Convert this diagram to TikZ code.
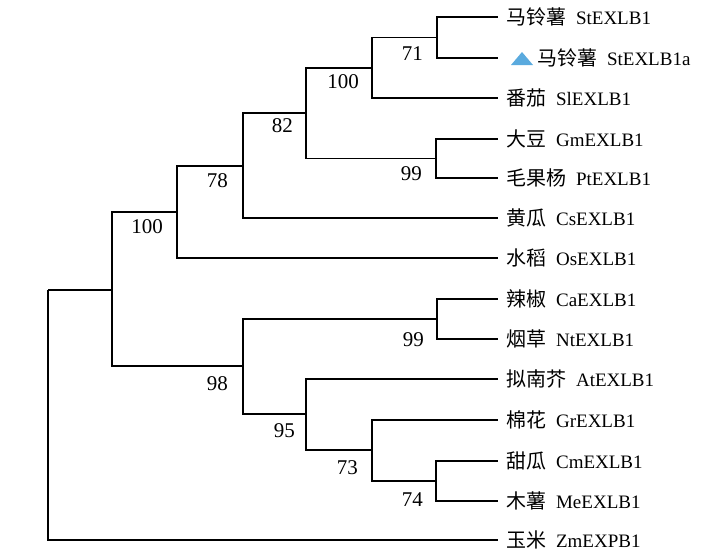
\documentclass[tikz,border=0pt]{standalone}
\usepackage{fontspec}
\setmainfont{Liberation Serif}
\newfontfamily\cjk[Scale=1.05]{Noto Sans CJK SC}
\newcommand{\taxon}[2]{{\cjk #1}\hspace{10pt}#2}
\definecolor{triblue}{RGB}{90,170,222}

\begin{document}
\begin{tikzpicture}[x=1pt,y=-1pt]
	\tikzstyle{leaf}=[anchor=west,inner xsep=8pt,inner ysep=0pt,text height=15.5pt,text depth=0.5pt,font=\fontsize{19}{21}\selectfont]
	\tikzstyle{bs}=[anchor=north east,inner sep=0pt,font=\fontsize{21}{24}\selectfont]
	\tikzstyle{branch}=[line width=1.1pt]
	\useasboundingbox (0,0) rectangle (721,560);
	% leaves
	\node[leaf] (st) at (498,17) {\taxon{马铃薯}{StEXLB1}};
	\node[leaf] (sta) at (498,58) {\hspace{31pt}\taxon{马铃薯}{StEXLB1a}};
	\node[leaf] (sl) at (498,98) {\taxon{番茄}{SlEXLB1}};
	\node[leaf] (gm) at (498,139) {\taxon{大豆}{GmEXLB1}};
	\node[leaf] (pt) at (498,178) {\taxon{毛果杨}{PtEXLB1}};
	\node[leaf] (cs) at (498,218) {\taxon{黄瓜}{CsEXLB1}};
	\node[leaf] (os) at (498,258) {\taxon{水稻}{OsEXLB1}};
	\node[leaf] (ca) at (498,299) {\taxon{辣椒}{CaEXLB1}};
	\node[leaf] (nt) at (498,339) {\taxon{烟草}{NtEXLB1}};
	\node[leaf] (at) at (498,379) {\taxon{拟南芥}{AtEXLB1}};
	\node[leaf] (gr) at (498,420) {\taxon{棉花}{GrEXLB1}};
	\node[leaf] (cm) at (498,461) {\taxon{甜瓜}{CmEXLB1}};
	\node[leaf] (me) at (498,501) {\taxon{木薯}{MeEXLB1}};
	\node[leaf] (zm) at (498,540) {\taxon{玉米}{ZmEXPB1}};
	\fill[triblue] (511,65) -- (533,65) -- (522,52) -- cycle;
	% inner nodes
	\coordinate (n71) at (437,37.5);
	\coordinate (n100a) at (372,68);
	\coordinate (n99a) at (436,158.5);
	\coordinate (n82) at (306,113);
	\coordinate (n78) at (243,166);
	\coordinate (n100b) at (177,212);
	\coordinate (n99b) at (437,319);
	\coordinate (n74) at (436,481);
	\coordinate (n73) at (372,450);
	\coordinate (n95) at (306,414);
	\coordinate (n98) at (243,366);
	\coordinate (nup) at (112,290);
	\coordinate (root) at (48,290);
	\foreach \a/\b in {n71/st,n71/sta,n100a/n71,n100a/sl,n99a/gm,n99a/pt,n82/n100a,n82/n99a,
		n78/n82,n78/cs,n100b/n78,n100b/os,n99b/ca,n99b/nt,n74/cm,n74/me,n73/gr,n73/n74,
		n95/at,n95/n73,n98/n99b,n98/n95,nup/n100b,nup/n98,root/nup,root/zm}
		\draw[branch] (\a) |- (\b);
	% bootstrap values
	\node[bs] (b71) at (423,46) {71};
	\node[bs] (b100a) at (359,74) {100};
	\node[bs] (b99a) at (422,166) {99};
	\node[bs] (b82) at (293,118) {82};
	\node[bs] (b78) at (228,173) {78};
	\node[bs] (b100b) at (163,219) {100};
	\node[bs] (b99b) at (424,332) {99};
	\node[bs] (b98) at (228,376) {98};
	\node[bs] (b95) at (295,423) {95};
	\node[bs] (b73) at (358,460) {73};
	\node[bs] (b74) at (423,492) {74};
\end{tikzpicture}
\end{document}
